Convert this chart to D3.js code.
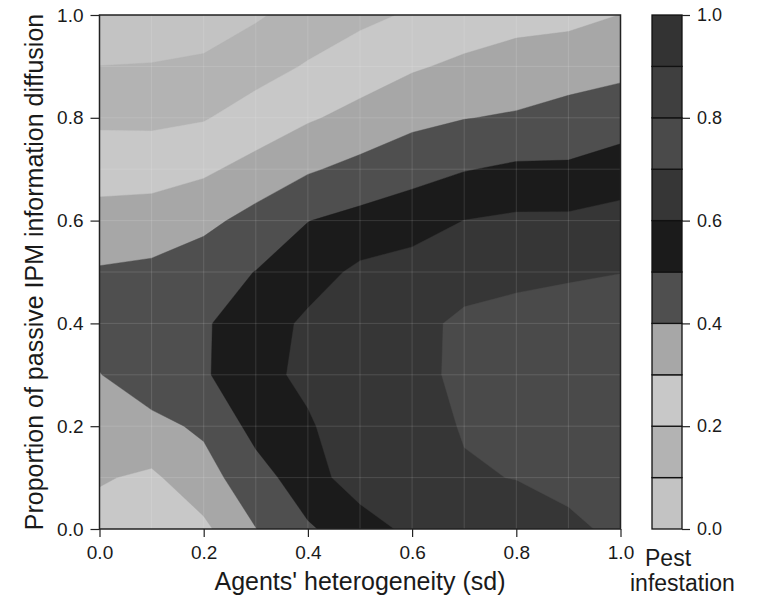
<!DOCTYPE html>
<html>
<head>
<meta charset="utf-8">
<script src="https://cdn.jsdelivr.net/npm/d3@7"></script>
<style>
  body { margin: 0; background: #fff; }
  text { font-family: "Liberation Sans", Arial, sans-serif; fill: #1a1a1a; }
</style>
</head>
<body>
<div id="chart"></div>
<script>
/****************************************/
/*****  Data   *****/
/****************************************/
// grid of the simulation: agents' heterogeneity (x) and share of passive diffusion (y)
const heterogeneity = [0.0, 0.1, 0.2, 0.3, 0.4, 0.5, 0.6, 0.7, 0.8, 0.9, 1.0];
const passiveShare = [0.0, 0.1, 0.2, 0.3, 0.4, 0.5, 0.6, 0.7, 0.8, 0.9, 1.0];

// pest infestation, one row per passiveShare value (from 0.0 up to 1.0)
const infestation = [
  [0.264, 0.250, 0.280, 0.398, 0.490, 0.545, 0.629, 0.650, 0.660, 0.685, 0.716], // 0.0
  [0.308, 0.284, 0.360, 0.463, 0.550, 0.659, 0.660, 0.693, 0.702, 0.720, 0.730], // 0.1
  [0.352, 0.372, 0.417, 0.530, 0.585, 0.680, 0.670, 0.705, 0.735, 0.740, 0.740], // 0.2
  [0.397, 0.460, 0.490, 0.560, 0.628, 0.670, 0.674, 0.720, 0.745, 0.750, 0.740], // 0.3
  [0.440, 0.470, 0.490, 0.550, 0.618, 0.650, 0.672, 0.719, 0.729, 0.740, 0.730], // 0.4
  [0.409, 0.421, 0.461, 0.502, 0.558, 0.620, 0.643, 0.660, 0.680, 0.689, 0.699], // 0.5
  [0.335, 0.343, 0.373, 0.435, 0.498, 0.529, 0.555, 0.601, 0.617, 0.618, 0.637], // 0.6
  [0.259, 0.261, 0.284, 0.332, 0.389, 0.428, 0.465, 0.495, 0.516, 0.514, 0.544], // 0.7
  [0.181, 0.179, 0.193, 0.243, 0.289, 0.330, 0.374, 0.397, 0.410, 0.435, 0.455], // 0.8
  [0.101, 0.105, 0.115, 0.163, 0.208, 0.250, 0.289, 0.319, 0.338, 0.355, 0.374], // 0.9
  [0.021, 0.035, 0.055, 0.088, 0.140, 0.178, 0.210, 0.242, 0.269, 0.274, 0.301]  // 1.0
];

// contour levels and the grey used for each band
const levelBreaks = [0.0, 0.1, 0.2, 0.3, 0.4, 0.5, 0.6, 0.7, 0.8, 0.9, 1.0];
const levelColors = ['#c3c3c3', '#b3b3b3', '#c8c8c8', '#a7a7a7', '#4f4f4f',
                     '#1b1b1b', '#363636', '#4a4a4a', '#3f3f3f', '#333333'];

const axisTicks = [0.0, 0.2, 0.4, 0.6, 0.8, 1.0];

/****************************************/
/*****  Chart   *****/
/****************************************/
const width = 765;
const height = 599;
const plotLeft = 99.5;
const plotRight = 620.5;
const plotTop = 15;
const plotBottom = 529;

const svg = d3.select('#chart')
  .append('svg')
    .attr('width', width)
    .attr('height', height);

const xScale = d3.scaleLinear()
  .domain([0, 1])
  .range([plotLeft, plotRight]);
const yScale = d3.scaleLinear()
  .domain([0, 1])
  .range([plotBottom, plotTop]);

// contour grid index -> data value
const nx = heterogeneity.length;
const ny = passiveShare.length;
const idxToX = d3.scaleLinear().domain([0, nx - 1]).range([heterogeneity[0], heterogeneity[nx - 1]]);
const idxToY = d3.scaleLinear().domain([0, ny - 1]).range([passiveShare[0], passiveShare[ny - 1]]);

// d3.contours puts value i at i + 0.5
const toScreen = d3.geoTransform({
  point: function(px, py) {
    this.stream.point(xScale(idxToX(px - 0.5)), yScale(idxToY(py - 0.5)));
  }
});
const contourPath = d3.geoPath(toScreen);

const contours = d3.contours()
  .size([nx, ny])
  .thresholds(levelBreaks.slice(0, -1))(infestation.flat());

svg.append('clipPath')
    .attr('id', 'plot-clip')
  .append('rect')
    .attr('x', plotLeft)
    .attr('y', plotTop)
    .attr('width', plotRight - plotLeft)
    .attr('height', plotBottom - plotTop);

svg.append('g')
    .attr('clip-path', 'url(#plot-clip)')
  .selectAll('path')
  .data(contours)
  .join('path')
    .attr('d', contourPath)
    .attr('fill', (d, i) => levelColors[i])
    .attr('stroke', (d, i) => levelColors[i])
    .attr('stroke-width', 0.4);

// faint grid over the filled contours
const gridGroup = svg.append('g')
  .attr('stroke', '#ffffff')
  .attr('stroke-opacity', 0.13)
  .attr('stroke-width', 1);
gridGroup.selectAll('.grid-x')
  .data(heterogeneity.slice(1, -1))
  .join('line')
    .attr('class', 'grid-x')
    .attr('x1', d => xScale(d))
    .attr('x2', d => xScale(d))
    .attr('y1', plotTop)
    .attr('y2', plotBottom);
gridGroup.selectAll('.grid-y')
  .data(passiveShare.slice(1, -1))
  .join('line')
    .attr('class', 'grid-y')
    .attr('x1', plotLeft)
    .attr('x2', plotRight)
    .attr('y1', d => yScale(d))
    .attr('y2', d => yScale(d));

// plot border
svg.append('rect')
    .attr('x', plotLeft)
    .attr('y', plotTop)
    .attr('width', plotRight - plotLeft)
    .attr('height', plotBottom - plotTop)
    .attr('fill', 'none')
    .attr('stroke', '#222')
    .attr('stroke-width', 1.5);

// axes
const yAxis = svg.append('g')
  .attr('transform', `translate(${plotLeft},0)`)
  .call(d3.axisLeft(yScale).tickValues(axisTicks).tickFormat(d3.format('.1f')).tickSize(9).tickPadding(7));
const xAxis = svg.append('g')
  .attr('transform', `translate(0,${plotBottom})`)
  .call(d3.axisBottom(xScale).tickValues(axisTicks).tickFormat(d3.format('.1f')).tickSize(8).tickPadding(9));
[xAxis, yAxis].forEach(ax => {
  ax.select('.domain').remove();
  ax.selectAll('line').attr('stroke', '#222').attr('stroke-width', 1.2);
  ax.selectAll('text').attr('font-size', 19).attr('fill', '#1a1a1a')
    .style('font-family', '"Liberation Sans", Arial, sans-serif');
});

// axis titles
svg.append('text')
    .attr('x', (plotLeft + plotRight) / 2)
    .attr('y', 590)
    .attr('text-anchor', 'middle')
    .attr('font-size', 25)
    .text("Agents' heterogeneity (sd)");
svg.append('text')
    .attr('transform', `translate(43,${(plotTop + plotBottom) / 2}) rotate(-90)`)
    .attr('text-anchor', 'middle')
    .attr('font-size', 25)
    .text('Proportion of passive IPM information diffusion');

/****************************************/
/*****  Legend   *****/
/****************************************/
const legendLeft = 652;
const legendWidth = 30;
const legendScale = d3.scaleLinear()
  .domain([0, 1])
  .range([plotBottom, plotTop]);

const legend = svg.append('g').attr('class', 'legend');
legend.selectAll('rect')
  .data(levelColors)
  .join('rect')
    .attr('x', legendLeft)
    .attr('y', (d, i) => legendScale(levelBreaks[i + 1]))
    .attr('width', legendWidth)
    .attr('height', (d, i) => legendScale(levelBreaks[i]) - legendScale(levelBreaks[i + 1]))
    .attr('fill', d => d)
    .attr('stroke', '#111')
    .attr('stroke-width', 1.3);

const legendAxis = legend.append('g')
  .attr('transform', `translate(${legendLeft + legendWidth},0)`)
  .call(d3.axisRight(legendScale).tickValues(axisTicks).tickFormat(d3.format('.1f')).tickSize(8).tickPadding(7));
legendAxis.select('.domain').remove();
legendAxis.selectAll('line').attr('stroke', '#222').attr('stroke-width', 1.2);
legendAxis.selectAll('text').attr('font-size', 18).attr('fill', '#1a1a1a')
  .style('font-family', '"Liberation Sans", Arial, sans-serif');

// two-line legend title
legend.append('text')
    .attr('x', 645)
    .attr('y', 566)
    .attr('font-size', 23)
    .text('Pest');
legend.append('text')
    .attr('x', 630)
    .attr('y', 591)
    .attr('font-size', 23)
    .text('infestation');
</script>
</body>
</html>
